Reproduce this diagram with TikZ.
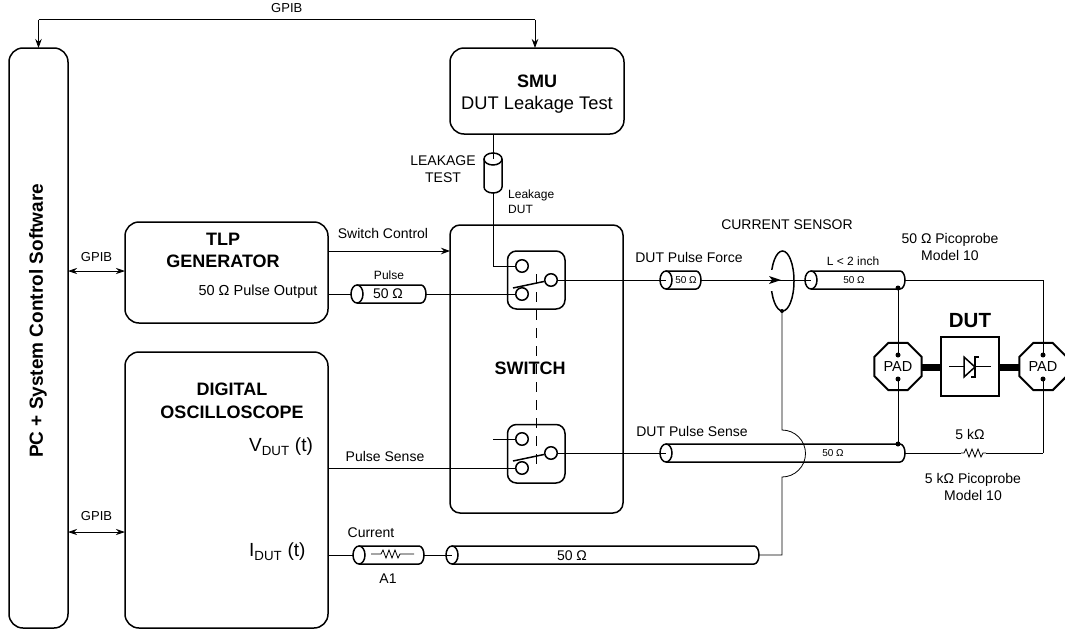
\documentclass[tikz,border=0pt]{standalone}
\usepackage{fontspec}
\setmainfont{Liberation Sans}
\usetikzlibrary{arrows.meta,shapes.geometric}

\tikzset{
  wire/.style={line width=0.8pt},
  heavy/.style={line width=1.5pt},
  box/.style={heavy,rounded corners=14pt},
  swbox/.style={heavy,rounded corners=9pt},
  contact/.style={heavy,draw,fill=white,circle,inner sep=0pt,minimum size=12.5pt},
  arrowed/.style={wire,-{Stealth[length=9pt,width=6.5pt]}},
  both/.style={wire,{Stealth[length=9pt,width=6pt]}-{Stealth[length=9pt,width=6pt]}},
  dot/.style={fill,circle,inner sep=0pt,minimum size=5pt},
  txt/.style={font=\fontsize{14}{17}\selectfont,inner sep=0pt},
  gpib/.style={font=\fontsize{13}{15}\selectfont,inner sep=0pt},
  small/.style={font=\fontsize{12}{15}\selectfont,inner sep=0pt},
  tiny/.style={font=\fontsize{10}{12}\selectfont,inner sep=0pt},
  head/.style={font=\fontsize{18}{22.5}\selectfont\bfseries,inner sep=0pt,align=center},
  big/.style={font=\fontsize{19}{21}\selectfont,inner sep=0pt,anchor=west},
  pad/.style={regular polygon,regular polygon sides=8,draw,line width=2pt,fill=white,
    minimum size=51pt,inner sep=0pt,font=\fontsize{14.5}{16}\selectfont},
}

\begin{document}
\begin{tikzpicture}[x=1pt,y=-1pt]
  \useasboundingbox (0,0) rectangle (1065,632);
  %
  % blocks
  \draw[box] (9,48) rectangle (68,628);
  \draw[box] (450,48) rectangle (624,134);
  \draw[box] (125,222) rectangle (328,323);
  \draw[box] (125,352) rectangle (328,628);
  \draw[heavy,rounded corners=10pt] (450,225) rectangle (623,513);
  %
  \coordinate (pctop) at (38.5,48);
  \coordinate (smutop) at (535,48);
  \coordinate (gpibl) at (38.5,19.5);
  \coordinate (gpibr) at (535,19.5);
  \draw[arrowed] (gpibl) -- (pctop);
  \draw[arrowed] (gpibr) -- (smutop);
  \draw[wire] (gpibl) -- node[gpib,above=6pt] {GPIB} (gpibr);
  %
  \coordinate (pca) at (68,271);
  \coordinate (tlpa) at (125,271);
  \coordinate (pcb) at (68,532);
  \coordinate (scopea) at (125,532);
  \draw[both] (pca) -- (tlpa);
  \draw[both] (pcb) -- (scopea);
  \node[gpib] (gpiba) at (96.5,257) {GPIB};
  \node[gpib] (gpibb) at (96.5,516) {GPIB};
  %
  \coordinate (tlpb) at (328,251);
  \coordinate (swb) at (450,251);
  \draw[arrowed] (tlpb) -- (swb);
  %
  % coax sections: name/left/right/centre
  \foreach \n/\xa/\xb/\yc in {pulse/351/426/294,force/660/701/280,short/805/905/280,
      sense/660/905/453,amp/353/424/555,long/446/759/555} {
    \coordinate (\n l) at (\xa,\yc);
    \coordinate (\n r) at (\xb,\yc);
    \draw[heavy,fill=white] (\xa+6,\yc-9) -- (\xb-5,\yc-9)
      arc[start angle=-90,end angle=90,x radius=5,y radius=9] -- (\xa+6,\yc+9);
    \draw[heavy,fill=white] (\xa+6,\yc) ellipse[x radius=6,y radius=9];
    \coordinate (\n i) at (\xa+6,\yc);
  }
  %
  % leakage coax stands upright
  \draw[heavy,fill=white] (484,159) -- (484,187) arc[start angle=180,end angle=0,x radius=9,y radius=6] -- (502,159);
  \draw[heavy,fill=white] (493,159) ellipse[x radius=9,y radius=6];
  \coordinate (leakt) at (493,159);
  \coordinate (leakb) at (493,193);
  \coordinate (smubot) at (493,134);
  %
  % switches
  \draw[swbox,fill=white] (507.5,251) rectangle (565,309);
  \draw[swbox,fill=white] (507.5,424.5) rectangle (565,483);
  \draw[wire,dash pattern=on 10pt off 8pt] (536,274) -- (536,468);
  \node[contact] (upa) at (522,266) {};
  \node[contact] (upb) at (522,294) {};
  \node[contact] (upc) at (551,280) {};
  \node[contact] (loa) at (522,439) {};
  \node[contact] (lob) at (522,468) {};
  \node[contact] (loc) at (551,453) {};
  \draw[heavy] (513,288) -- (upc);
  \draw[heavy] (513,461) -- (loc);
  %
  \coordinate (tlpc) at (328,294);
  \coordinate (scopev) at (328,468);
  \coordinate (scopei) at (328,555);
  \coordinate (stub) at (493,439);
  \coordinate (bend) at (493,266);
  \coordinate (forcet) at (782,280);
  \coordinate (probea) at (1043,280);
  \coordinate (probeb) at (1043,453);
  \coordinate (senst) at (782,311);
  \coordinate (humpa) at (782,430);
  \coordinate (humpb) at (782,477);
  \coordinate (curb) at (782,555);
  %
  \draw[wire] (smubot) -- (leakt);
  \draw[wire] (leakb) -- (bend) -- (upa);
  \draw[wire] (tlpc) -- (pulsel);
  \draw[wire] (pulser) -- (upb);
  \draw[wire] (upc) -- (forcei);
  \draw[wire] (scopev) -- (lob);
  \draw[wire] (stub) -- (loa);
  \draw[wire] (loc) -- (sensei);
  \draw[wire] (scopei) -- (ampl);
  \draw[wire] (ampr) -- (longi);
  \draw[wire] (forcer) -- (shorti);
  \draw[wire] (shortr) -- (probea) -- (probeb);
  \draw[wire] (senser) -- (probeb);
  \draw[wire] (senst) -- (humpa) arc[start angle=-90,end angle=90,radius=23.5] -- (curb) -- (longr);
  %
  % current sensor
  \draw[heavy] (782.5,281) ellipse[x radius=11.5,y radius=30];
  \draw[white,line width=3pt] (771,270) -- (771,291);
  \draw[wire] (forcer) -- (shorti);
  \fill (781,280) -- ++(-12,-4) -- ++(3,4) -- ++(-3,4) -- cycle;
  \node[dot,minimum size=4pt] (sensdot) at (senst) {};
  %
  % pads and DUT
  \draw[line width=7pt] (922,367) -- (1019,367);
  \node[pad] (pada) at (898,366.5) {PAD};
  \node[pad] (padb) at (1043,366.5) {PAD};
  \draw[line width=2pt,fill=white] (941,337) rectangle (999,396);
  \draw[wire] (898,288) -- (898,355);
  \draw[wire] (898,379) -- (898,444);
  \draw[wire] (1043,280) -- (1043,355);
  \draw[wire] (1043,379) -- (1043,453);
  \foreach \n/\xc/\yc in {pa/898/355,pb/898/379,pc/1043/355,pd/1043/379,ta/898/288,tb/898/444} {
    \node[dot] (\n) at (\xc,\yc) {};
  }
  \draw[heavy] (949,366.5) -- (991,366.5);
  \draw[heavy,fill=white,line join=miter] (964,357) -- (975,367) -- (964,377) -- cycle;
  \draw[line width=2pt] (979,357) -- (975,357) -- (975,377) -- (971,377);
  %
  % resistors
  \fill[white] (961,450) rectangle (986,456);
  \draw[wire] (961,453) -- (964,453) -- (966,449) -- (969,457) -- (972,449) -- (975,457) -- (978,449) -- (981,457) -- (983,453) -- (986,453);
  \draw[wire] (371,554) -- (381,554) -- (383,550) -- (386,558) -- (389,550) -- (392,558) -- (395,550) -- (398,558) -- (400,554) -- (414,554);
  %
  % labels
  \node[rotate=90,font=\fontsize{19}{21}\selectfont\bfseries,inner sep=0pt] (pclabel) at (38,321) {PC + System Control Software};
  \node[head] (smulabel) at (537,81) {SMU};
  \node[font=\fontsize{18.3}{20}\selectfont,inner sep=0pt] (smutest) at (537,105) {DUT Leakage Test};
  \node[head] (tlplabel) at (223,250.5) {TLP\\GENERATOR};
  \node[font=\fontsize{14.5}{16}\selectfont,inner sep=0pt] (tlpout) at (258,292) {50 Ω Pulse Output};
  \node[head] (scopelabel) at (232,401) {DIGITAL\\OSCILLOSCOPE};
  \node[head] (switchlabel) at (530,368) {SWITCH};
  \node[big] (vlabel) at (249,447) {V\textsubscript{DUT} (t)};
  \node[big] (ilabel) at (249,552) {I\textsubscript{DUT} (t)};
  \node[txt,align=center] (leaklabel) at (443,169) {LEAKAGE\\TEST};
  \node[small,align=left,anchor=west] (leakdut) at (508,202) {Leakage\\DUT};
  \node[txt] (swctl) at (383,233) {Switch Control};
  \node[small] (pulselabel) at (389,275) {Pulse};
  \node[txt] (pulseohm) at (388,294) {50 Ω};
  \node[txt] (forcelabel) at (689,257) {DUT Pulse Force};
  \node[tiny] (forceohm) at (686,280) {50 Ω};
  \node[txt] (senslabel) at (787,225) {CURRENT SENSOR};
  \node[small] (shortlen) at (853,261) {L < 2 inch};
  \node[tiny] (shortohm) at (854,280) {50 Ω};
  \node[txt,align=center] (picoa) at (950,246.5) {50 Ω Picoprobe\\Model 10};
  \node[font=\fontsize{20.5}{22}\selectfont\bfseries,inner sep=0pt] (dutlabel) at (970,321) {DUT};
  \node[txt] (kohm) at (970,434) {5 kΩ};
  \node[txt,align=center] (picob) at (973,486.5) {5 kΩ Picoprobe\\Model 10};
  \node[txt] (senselabel) at (692,431) {DUT Pulse Sense};
  \node[tiny] (senseohm) at (833,453) {50 Ω};
  \node[txt] (pulsesense) at (385,456) {Pulse Sense};
  \node[txt] (curlabel) at (371,533) {Current};
  \node[txt] (ampname) at (388,579) {A1};
  \node[txt] (longohm) at (572,556) {50 Ω};
\end{tikzpicture}
\end{document}
